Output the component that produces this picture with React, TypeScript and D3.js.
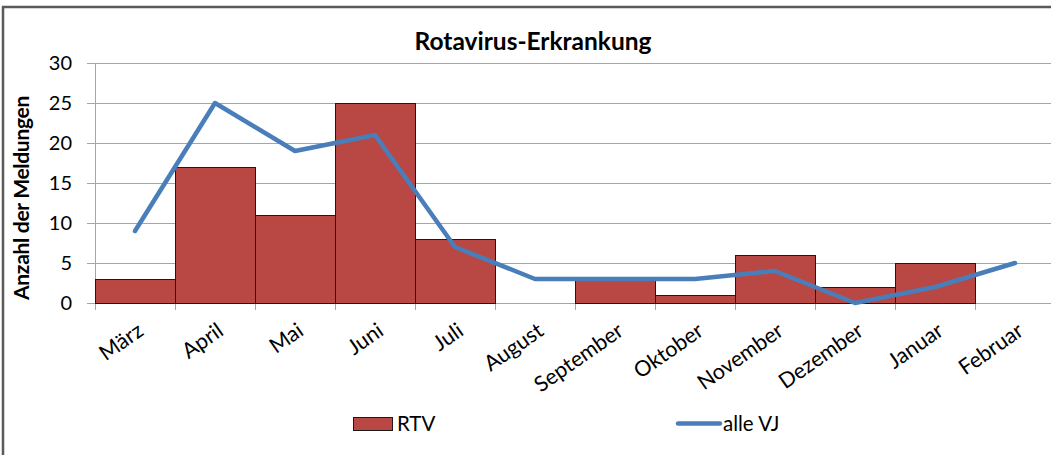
import React, { useRef, useEffect } from "react";
import * as d3 from "d3";

const months = [
  "März", "April", "Mai", "Juni", "Juli", "August",
  "September", "Oktober", "November", "Dezember", "Januar", "Februar",
];
const rtv = [3, 17, 11, 25, 8, 0, 3, 1, 6, 2, 5, 0];
const alleVJ = [9, 25, 19, 21, 7, 3, 3, 3, 4, 0, 2, 5];
const yTicks = [0, 5, 10, 15, 20, 25, 30];

const W = 1051;
const H = 455;
const FONT = "Lato, 'Open Sans', sans-serif";

export default function App() {
  const svgRef = useRef<SVGSVGElement>(null);

  useEffect(() => {
    const svg = d3.select(svgRef.current);
    svg.selectAll("*").remove();

    const left = 95, right = 1055, top = 63, bottom = 303;

    const x = d3.scaleBand().domain(months).range([left, right]).padding(0);
    const y = d3.scaleLinear().domain([0, 30]).range([bottom, top]);

    // outer frame
    svg.append("rect")
      .attr("x", 3).attr("y", 7)
      .attr("width", W + 10).attr("height", H + 10)
      .attr("fill", "white")
      .attr("stroke", "#5a5a5a")
      .attr("stroke-width", 2.5);

    // gridlines
    svg.append("g")
      .selectAll("line")
      .data(yTicks)
      .join("line")
      .attr("x1", left - 8).attr("x2", right)
      .attr("y1", (d) => Math.round(y(d)) + 0.5)
      .attr("y2", (d) => Math.round(y(d)) + 0.5)
      .attr("stroke", "#a6a6a6")
      .attr("stroke-width", 1);

    // y axis line
    svg.append("line")
      .attr("x1", left + 0.5).attr("x2", left + 0.5)
      .attr("y1", top).attr("y2", bottom + 6)
      .attr("stroke", "#a6a6a6");

    // x ticks at band edges
    const edges = months.map((m) => x(m) as number).concat([right]);
    svg.append("g")
      .selectAll("line")
      .data(edges)
      .join("line")
      .attr("x1", (d) => Math.round(d) + 0.5)
      .attr("x2", (d) => Math.round(d) + 0.5)
      .attr("y1", bottom).attr("y2", bottom + 7)
      .attr("stroke", "#a6a6a6");

    // bars
    svg.append("g")
      .selectAll("rect")
      .data(rtv.map((v, i) => ({ m: months[i], v })).filter((d) => d.v > 0))
      .join("rect")
      .attr("x", (d) => (x(d.m) as number) + 0.5)
      .attr("y", (d) => y(d.v) + 0.5)
      .attr("width", x.bandwidth())
      .attr("height", (d) => y(0) - y(d.v))
      .attr("fill", "#b94743")
      .attr("stroke", "#1a1a1a")
      .attr("stroke-width", 1);

    // line
    const line = d3.line<number>()
      .x((_, i) => (x(months[i]) as number) + x.bandwidth() / 2)
      .y((d) => y(d));
    svg.append("path")
      .datum(alleVJ)
      .attr("d", line)
      .attr("fill", "none")
      .attr("stroke", "#4a7ebb")
      .attr("stroke-width", 4.5)
      .attr("stroke-linejoin", "round")
      .attr("stroke-linecap", "round");

    // y tick labels
    svg.append("g")
      .selectAll("text")
      .data(yTicks)
      .join("text")
      .attr("x", 72)
      .attr("y", (d) => y(d))
      .attr("dy", "0.36em")
      .attr("text-anchor", "end")
      .attr("font-family", FONT)
      .attr("font-size", 20)
      .attr("fill", "#000")
      .text((d) => d);

    // x tick labels
    svg.append("g")
      .selectAll("text")
      .data(months)
      .join("text")
      .attr("text-anchor", "end")
      .attr("font-family", FONT)
      .attr("font-size", 21.5)
      .attr("fill", "#000")
      .attr("transform", (d) => {
        const cx = (x(d) as number) + x.bandwidth() / 2 + 10;
        return `translate(${cx},${bottom + 31}) rotate(-35)`;
      })
      .text((d) => d);

    // title
    svg.append("text")
      .attr("x", 533).attr("y", 50)
      .attr("text-anchor", "middle")
      .attr("font-family", FONT)
      .attr("font-weight", 700)
      .attr("font-size", 24.5)
      .text("Rotavirus-Erkrankung");

    // y axis title
    svg.append("text")
      .attr("transform", "translate(29,198) rotate(-90)")
      .attr("text-anchor", "middle")
      .attr("font-family", FONT)
      .attr("font-weight", 700)
      .attr("font-size", 21)
      .attr("letter-spacing", "-0.3")
      .text("Anzahl der Meldungen");

    // legend
    const lg = svg.append("g");
    lg.append("rect")
      .attr("x", 353.5).attr("y", 417.5)
      .attr("width", 39).attr("height", 13)
      .attr("fill", "#b94743")
      .attr("stroke", "#1a1a1a");
    lg.append("text")
      .attr("x", 397).attr("y", 424)
      .attr("dy", "0.36em")
      .attr("font-family", FONT)
      .attr("font-size", 20.5)
      .text("RTV");
    lg.append("line")
      .attr("x1", 678).attr("x2", 720)
      .attr("y1", 423.5).attr("y2", 423.5)
      .attr("stroke", "#4a7ebb")
      .attr("stroke-width", 4.5)
      .attr("stroke-linecap", "round");
    lg.append("text")
      .attr("x", 723).attr("y", 424)
      .attr("dy", "0.36em")
      .attr("font-family", FONT)
      .attr("font-size", 20.5)
      .text("alle VJ");
  }, []);

  return (
    <svg
      ref={svgRef}
      width={W}
      height={H}
      style={{ position: "absolute", left: 0, top: 0, display: "block" }}
    />
  );
}
